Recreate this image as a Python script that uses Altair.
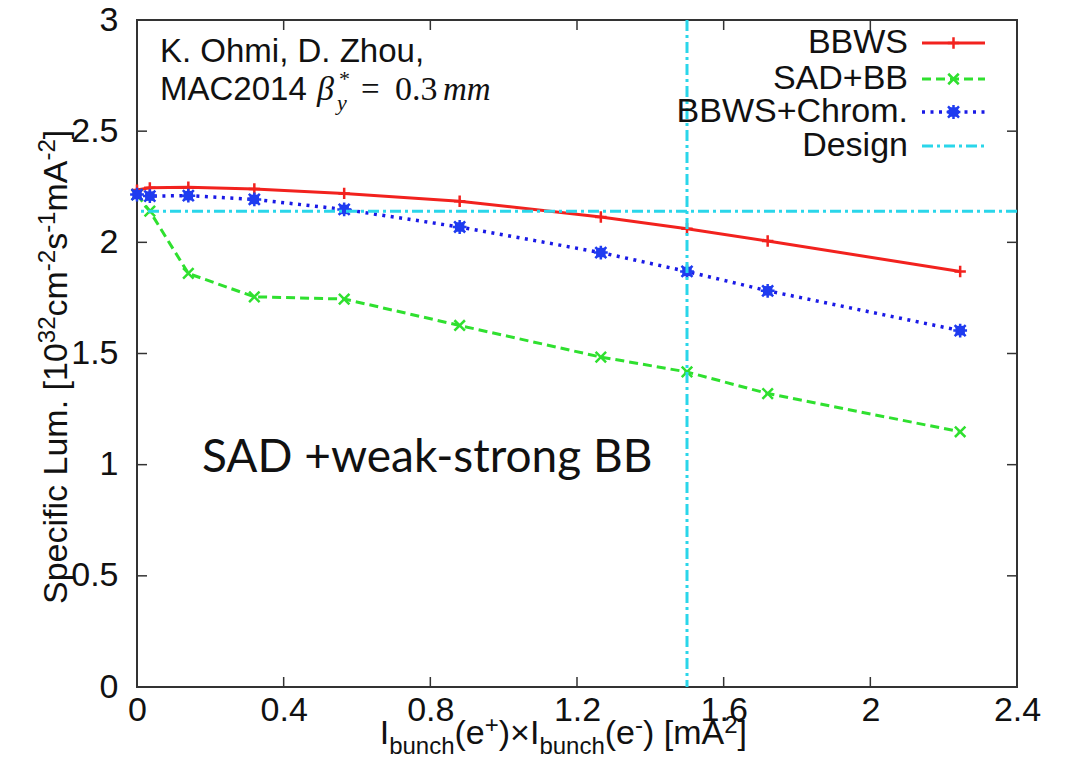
import altair as alt
import pandas as pd

# ---------------- data ----------------
x_vals = [0.0, 0.035, 0.14, 0.32, 0.565, 0.88, 1.265, 1.5, 1.72, 2.245]
bbws = [2.235, 2.245, 2.248, 2.24, 2.22, 2.185, 2.114, 2.061, 2.006, 1.869]
sad_bb = [2.215, 2.14, 1.86, 1.755, 1.745, 1.626, 1.484, 1.417, 1.32, 1.148]
chrom = [2.215, 2.208, 2.21, 2.193, 2.148, 2.069, 1.954, 1.869, 1.782, 1.603]
design_lum = [2.14]
design_current = [1.5]
x_ticks = [0, 0.4, 0.8, 1.2, 1.6, 2.0, 2.4]
y_ticks = [0, 0.5, 1, 1.5, 2, 2.5, 3]
series_names = ["BBWS", "SAD+BB", "BBWS+Chrom.", "Design"]

# ---------------- style ----------------
W, H = 880, 667
SANS = "Liberation Sans, Arial, Helvetica, sans-serif"
SERIF = "Liberation Serif, DejaVu Serif, serif"
RED, GREEN, BLUE, CYAN = "#f2221e", "#2fe02f", "#1f3cf0", "#2ad6ea"
PLUS = "M-1,0L1,0M0,-1L0,1"
CROSS = "M-1,-1L1,1M-1,1L1,-1"
STAR = "M-1,0L1,0M0,-1L0,1M-0.8,-0.8L0.8,0.8M-0.8,0.8L0.8,-0.8"

xs = alt.Scale(domain=[0, 2.4], nice=False, zero=False)
ys = alt.Scale(domain=[0, 3], nice=False, zero=False)
X_AX = alt.Axis(values=x_ticks, format="~g", labelPadding=6, title=None)
Y_AX = alt.Axis(values=y_ticks, format="~g", labelPadding=19, title=None)

df = pd.DataFrame({"x": x_vals, "bbws": bbws, "sad": sad_bb, "chrom": chrom})
one = pd.DataFrame({"k": [0]})


def X(f="x"):
    return alt.X(f"{f}:Q", scale=xs, axis=X_AX)


def Y(f):
    return alt.Y(f"{f}:Q", scale=ys, axis=Y_AX)


layers = []

# inward ticks (bottom/top, left/right)
xt = pd.DataFrame({"v": x_ticks[1:-1]})
yt = pd.DataFrame({"v": y_ticks[1:-1]})
tick_style = dict(color="#333333", strokeWidth=1.5)
layers.append(alt.Chart(xt).mark_rule(**tick_style).encode(x=X("v"), y=alt.value(H), y2=alt.value(H - 10)))
layers.append(alt.Chart(xt).mark_rule(**tick_style).encode(x=X("v"), y=alt.value(0), y2=alt.value(10)))
layers.append(alt.Chart(yt).mark_rule(**tick_style).encode(y=Y("v"), x=alt.value(0), x2=alt.value(10)))
layers.append(alt.Chart(yt).mark_rule(**tick_style).encode(y=Y("v"), x=alt.value(W), x2=alt.value(W - 10)))

# series
layers.append(alt.Chart(df).mark_line(color=RED, strokeWidth=3).encode(x=X(), y=Y("bbws")))
layers.append(alt.Chart(df).mark_point(shape=PLUS, size=130, color=RED, strokeWidth=2.5, filled=False, opacity=1)
              .encode(x=X(), y=Y("bbws")))
layers.append(alt.Chart(df).mark_line(color=GREEN, strokeWidth=3, strokeDash=[9, 5]).encode(x=X(), y=Y("sad")))
layers.append(alt.Chart(df).mark_point(shape=CROSS, size=110, color=GREEN, strokeWidth=2.5, filled=False, opacity=1)
              .encode(x=X(), y=Y("sad")))
layers.append(alt.Chart(df).mark_line(color="#1a1ae6", strokeWidth=3.5, strokeDash=[3, 5.5]).encode(x=X(), y=Y("chrom")))
layers.append(alt.Chart(df).mark_point(shape="square", size=90, color=BLUE, filled=True, opacity=1)
              .encode(x=X(), y=Y("chrom")))
layers.append(alt.Chart(df).mark_point(shape=STAR, size=190, color=BLUE, strokeWidth=2.5, filled=False, opacity=1)
              .encode(x=X(), y=Y("chrom")))

# design lines
dash_dot = [11, 4, 3, 4]
layers.append(alt.Chart(pd.DataFrame({"y": design_lum})).mark_rule(color=CYAN, strokeWidth=3, strokeDash=dash_dot)
              .encode(y=Y("y")))
layers.append(alt.Chart(pd.DataFrame({"x": design_current})).mark_rule(color=CYAN, strokeWidth=3, strokeDash=dash_dot)
              .encode(x=X("x")))


def piece(text, x, y, size, angle=0, font=SANS, style="normal", align="left",
          baseline="alphabetic", color="#111111"):
    return alt.Chart(one).mark_text(text=text, fontSize=size, angle=angle, font=font,
                                    fontStyle=style, align=align, baseline=baseline,
                                    color=color).encode(x=alt.value(x), y=alt.value(y))


# legend (gnuplot style: label then sample)
leg_rows = [23, 59, 92, 126]
leg_x_text, leg_x0, leg_x1 = 771, 785, 848
leg_styles = [
    dict(color=RED, strokeWidth=3),
    dict(color=GREEN, strokeWidth=3, strokeDash=[9, 5]),
    dict(color="#1a1ae6", strokeWidth=3.5, strokeDash=[3, 5.5]),
    dict(color=CYAN, strokeWidth=3, strokeDash=dash_dot),
]
leg_marks = [[(PLUS, RED, 130, 2.5, False)], [(CROSS, GREEN, 110, 2.5, False)],
             [("square", BLUE, 90, 0, True), (STAR, BLUE, 190, 2.5, False)], []]
for name, yy, st, mks in zip(series_names, leg_rows, leg_styles, leg_marks):
    layers.append(piece(name, leg_x_text, yy, 34, align="right", baseline="middle"))
    layers.append(alt.Chart(one).mark_rule(**st).encode(x=alt.value(leg_x0), x2=alt.value(leg_x1), y=alt.value(yy)))
    for shp, col, sz, sw, fl in mks:
        kw = dict(shape=shp, size=sz, color=col, filled=fl, opacity=1)
        if not fl:
            kw["strokeWidth"] = sw
        layers.append(alt.Chart(one).mark_point(**kw)
                      .encode(x=alt.value((leg_x0 + leg_x1) / 2), y=alt.value(yy)))

# annotations
layers.append(piece("K. Ohmi, D. Zhou,", 23, 42, 33))
layers.append(piece("MAC2014", 23, 80, 33))
layers.append(piece("β", 180, 80, 34, font=SERIF, style="italic"))
layers.append(piece("*", 202, 66, 22, font=SERIF))
layers.append(piece("y", 200, 90, 22, font=SERIF, style="italic"))
layers.append(piece("=", 224, 80, 33, font=SERIF))
layers.append(piece("0.3", 258, 80, 34, font=SERIF))
layers.append(piece("mm", 306, 80, 33, font=SERIF, style="italic"))
layers.append(piece("SAD +weak-strong BB", 65, 452, 46, font="Lato, Open Sans, sans-serif"))

# axis titles built from pieces (sub/superscripts)
AW = {' ': 278, '(': 333, ')': 333, '+': 584, '-': 333, '.': 278, 'A': 667, 'B': 667, 'C': 722,
      'D': 722, 'I': 278, 'L': 556, 'M': 833, 'S': 667, 'W': 944, '[': 278, ']': 278, 'b': 556,
      'c': 500, 'e': 556, 'f': 278, 'h': 556, 'i': 222, 'm': 833, 'n': 556, 'o': 556, 'p': 556,
      's': 500, 'u': 556, '×': 584}


def tw(s, size):
    return sum(AW.get(c, 556) for c in s) * size / 1000.0


F, FS = 34, 24
x_title = [("I", "m"), ("bunch", "sub"), ("(e", "m"), ("+", "sup"), (")×I", "m"), ("bunch", "sub"),
           ("(e", "m"), ("-", "sup"), (") [mA", "m"), ("2", "sup"), ("]", "m")]
cx = 242.7
base = H + 57
for t, kind in x_title:
    size = F if kind == "m" else FS
    yy = base + (10 if kind == "sub" else (-11 if kind == "sup" else 0))
    layers.append(piece(t, cx, yy, size))
    cx += tw(t, size)

y_title = [("Specific Lum. [10", "m"), ("32", "sup"), ("cm", "m"), ("-2", "sup"), ("s", "m"),
           ("-1", "sup"), ("mA", "m"), ("-2", "sup"), ("]", "m")]
cy = 584
xb = -70
for t, kind in y_title:
    size = F if kind == "m" else FS
    xx = xb - (12 if kind == "sup" else 0)
    layers.append(piece(t, xx, cy, size, angle=270))
    cy -= tw(t, size)

chart = alt.layer(*layers).properties(
    width=W, height=H,
    padding={"left": 129, "top": 12, "right": 40, "bottom": 76},
    autosize=alt.AutoSizeParams(type="none"),
    background="white",
).configure_view(stroke="#333333", strokeWidth=2).configure_axis(
    labelFont=SANS, labelFontSize=34, labelColor="#111111", domain=False, ticks=False,
    grid=False, labelFlush=False, labelOverlap=False,
)

chart.save("out.html", embed_options={"renderer": "svg", "actions": False})
